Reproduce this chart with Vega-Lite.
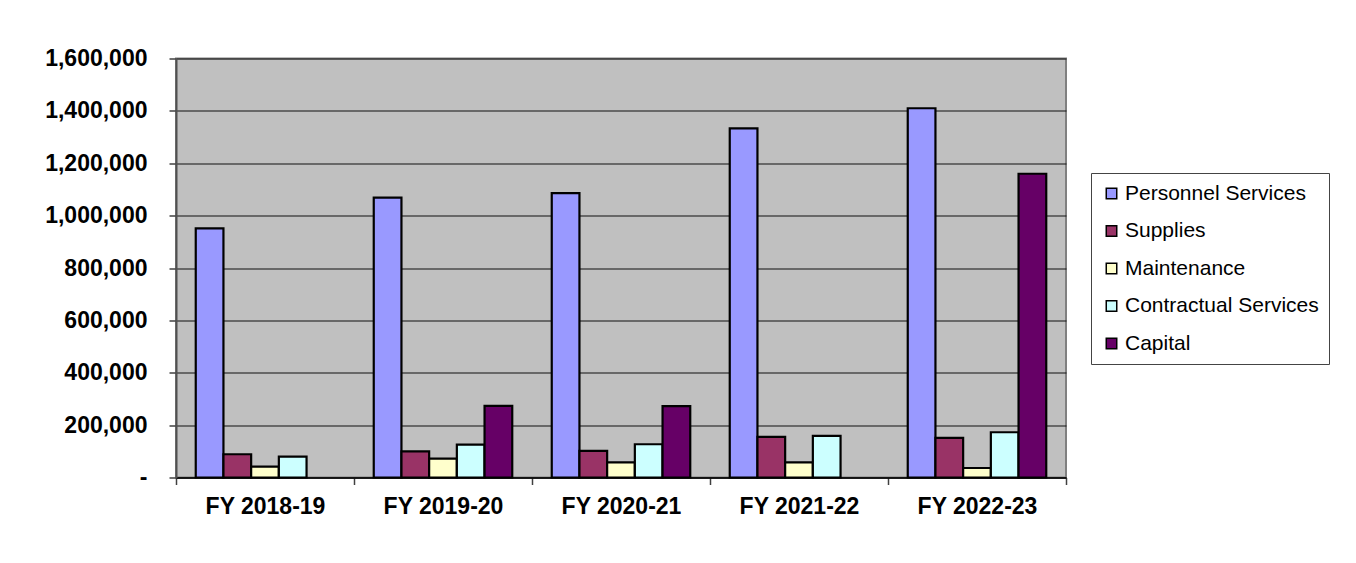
{
  "$schema": "https://vega.github.io/schema/vega-lite/v6.json",
  "autosize": {"type": "none"},
  "width": 890,
  "height": 419,
  "padding": {"left": 176, "top": 58.5, "right": 290, "bottom": 85.5},
  "background": "white",
  "config": {
    "font": "Liberation Sans",
    "view": {"fill": "#C0C0C0", "stroke": "#808080", "strokeWidth": 2}
  },
  "data": {
    "values": [
      {"year": "FY 2018-19", "category": "Personnel Services", "amount": 951000},
      {"year": "FY 2018-19", "category": "Supplies", "amount": 88700},
      {"year": "FY 2018-19", "category": "Maintenance", "amount": 41300},
      {"year": "FY 2018-19", "category": "Contractual Services", "amount": 79500},
      {"year": "FY 2019-20", "category": "Personnel Services", "amount": 1069000},
      {"year": "FY 2019-20", "category": "Supplies", "amount": 100000},
      {"year": "FY 2019-20", "category": "Maintenance", "amount": 71900},
      {"year": "FY 2019-20", "category": "Contractual Services", "amount": 125400},
      {"year": "FY 2019-20", "category": "Capital", "amount": 273400},
      {"year": "FY 2020-21", "category": "Personnel Services", "amount": 1086000},
      {"year": "FY 2020-21", "category": "Supplies", "amount": 101300},
      {"year": "FY 2020-21", "category": "Maintenance", "amount": 58000},
      {"year": "FY 2020-21", "category": "Contractual Services", "amount": 127000},
      {"year": "FY 2020-21", "category": "Capital", "amount": 272300},
      {"year": "FY 2021-22", "category": "Personnel Services", "amount": 1333000},
      {"year": "FY 2021-22", "category": "Supplies", "amount": 154900},
      {"year": "FY 2021-22", "category": "Maintenance", "amount": 58000},
      {"year": "FY 2021-22", "category": "Contractual Services", "amount": 158700},
      {"year": "FY 2022-23", "category": "Personnel Services", "amount": 1410000},
      {"year": "FY 2022-23", "category": "Supplies", "amount": 151000},
      {"year": "FY 2022-23", "category": "Maintenance", "amount": 36300},
      {"year": "FY 2022-23", "category": "Contractual Services", "amount": 172800},
      {"year": "FY 2022-23", "category": "Capital", "amount": 1160000}
    ]
  },
  "mark": {"type": "bar", "stroke": "black", "strokeWidth": 2.2, "strokeJoin": "miter"},
  "encoding": {
    "x": {
      "field": "year",
      "type": "nominal",
      "sort": null,
      "title": null,
      "scale": {"paddingInner": 0, "paddingOuter": 0},
      "axis": {
        "labelAngle": 0,
        "labelFont": "Liberation Sans",
        "labelFontSize": 23,
        "labelFontWeight": "bold",
        "labelColor": "black",
        "labelPadding": 10.5,
        "tickBand": "extent",
        "tickSize": 7,
        "tickColor": "#404040",
        "tickWidth": 1.5,
        "domainColor": "black",
        "domainWidth": 1.5
      }
    },
    "xOffset": {
      "field": "category",
      "type": "nominal",
      "scale": {
        "domain": ["Personnel Services", "Supplies", "Maintenance", "Contractual Services", "Capital"],
        "paddingInner": 0,
        "paddingOuter": 0.713
      }
    },
    "y": {
      "field": "amount",
      "type": "quantitative",
      "title": null,
      "scale": {"domain": [0, 1600000], "nice": false},
      "axis": {
        "values": [0, 200000, 400000, 600000, 800000, 1000000, 1200000, 1400000, 1600000],
        "labelExpr": "datum.value == 0 ? '-' : format(datum.value, ',d')",
        "labelFont": "Liberation Sans",
        "labelFontSize": 23,
        "labelFontWeight": "bold",
        "labelColor": "black",
        "labelPadding": 22,
        "tickSize": 7,
        "tickColor": "#404040",
        "tickWidth": 1.5,
        "domainColor": "#505050",
        "domainWidth": 2,
        "grid": true,
        "gridColor": "#111111",
        "gridWidth": 1.2
      }
    },
    "color": {
      "field": "category",
      "type": "nominal",
      "title": null,
      "scale": {
        "domain": ["Personnel Services", "Supplies", "Maintenance", "Contractual Services", "Capital"],
        "range": ["#9999FF", "#993366", "#FFFFCC", "#CCFFFF", "#660066"]
      },
      "legend": {
        "orient": "none",
        "legendX": 915,
        "legendY": 114.5,
        "strokeColor": "#444444",
        "fillColor": "white",
        "padding": 10,
        "symbolType": "square",
        "symbolSize": 110,
        "symbolStrokeColor": "black",
        "symbolStrokeWidth": 1.5,
        "symbolOpacity": 1,
        "labelFont": "Liberation Sans",
        "labelFontSize": 21,
        "labelColor": "black",
        "labelOffset": 3,
        "rowPadding": 15.5,
        "labelLimit": 300
      }
    }
  }
}
